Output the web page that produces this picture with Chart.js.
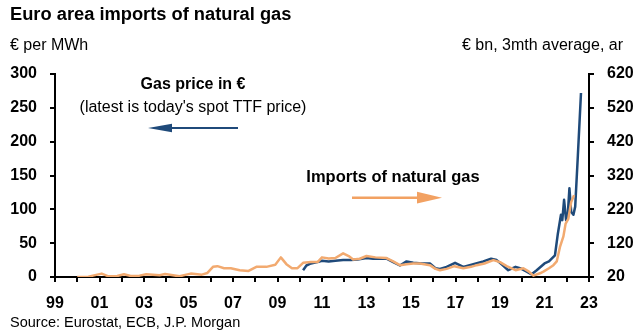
<!DOCTYPE html>
<html><head><meta charset="utf-8">
<script src="https://cdn.jsdelivr.net/npm/chart.js@4"></script>
<style>
html,body{margin:0;padding:0;background:#fff;}
#wrap{position:relative;width:638px;height:334px;font-family:"Liberation Sans",Arial,sans-serif;color:#000;overflow:hidden;}
canvas{position:absolute;left:0;top:0;}
svg{position:absolute;left:0;top:0;}
.t{position:absolute;white-space:nowrap;line-height:1;}
</style></head><body>
<div id="wrap">
<canvas id="c" width="638" height="334"></canvas>
<svg width="638" height="334">
  <line x1="238" y1="128" x2="166" y2="128" stroke="#1F4A7A" stroke-width="2.2"/>
  <polygon points="148,128 172,123.8 172,132.2" fill="#1F4A7A"/>
  <line x1="352" y1="197.7" x2="422" y2="197.7" stroke="#F2A162" stroke-width="2.5"/>
  <polygon points="442,197.7 417,191.8 417,203.6" fill="#F2A162"/>
</svg>
<div class="t" style="left:10px;top:4.5px;font-size:18.3px;font-weight:bold">Euro area imports of natural gas</div>
<div class="t" style="left:10px;top:36.5px;font-size:16px">€ per MWh</div>
<div class="t" style="right:15px;top:36.5px;font-size:16px">€ bn, 3mth average, ar</div>
<div class="t" style="left:193px;top:76px;font-size:16px;font-weight:bold;transform:translateX(-50%)">Gas price in €</div>
<div class="t" style="left:193px;top:99px;font-size:16px;transform:translateX(-50%)">(latest is today's spot TTF price)</div>
<div class="t" style="left:393px;top:168px;font-size:16.5px;font-weight:bold;transform:translateX(-50%)">Imports of natural gas</div>
<div class="t" style="left:10px;top:314.5px;font-size:14.5px">Source: Eurostat, ECB, J.P. Morgan</div>
</div>
<script>
// Imports of natural gas (€ bn, 3mth average, ar) - right axis
const importYears = [2000.0,2000.5,2000.9,2001.1,2001.4,2001.8,2002.1,2002.4,2002.8,2003.1,2003.4,2003.7,2003.95,2004.3,2004.6,2004.9,2005.1,2005.6,2005.85,2006.1,2006.3,2006.6,2006.9,2007.3,2007.7,2008.05,2008.5,2008.9,2009.15,2009.4,2009.65,2009.9,2010.15,2010.5,2010.8,2011.0,2011.3,2011.6,2011.95,2012.2,2012.4,2012.7,2013.0,2013.4,2013.9,2014.2,2014.5,2014.8,2015.1,2015.4,2015.85,2016.1,2016.3,2016.6,2016.95,2017.35,2017.7,2017.95,2018.3,2018.7,2019.0,2019.3,2019.7,2020.05,2020.3,2020.5,2020.8,2020.95,2021.2,2021.4,2021.55,2021.7,2021.85,2021.95,2022.07,2022.2,2022.33];
const importValues = [20,21,27,30,22,23,28,23,24,28,27,25,29,25,22,27,30,27,32,50,52,46,46,40,38,50,50,56,78,58,46,46,62,64,64,78,75,76,90,82,72,74,82,78,76,66,55,58,60,60,55,44,40,44,52,46,50,55,60,70,64,52,40,46,36,24,31,36,46,55,66,110,140,178,192,242,262];
// Gas price in € per MWh - left axis
const priceYears = [2010.15,2010.3,2010.5,2010.8,2011.0,2011.3,2011.6,2011.95,2012.3,2012.6,2013.0,2013.3,2013.6,2013.9,2014.2,2014.5,2014.8,2015.1,2015.5,2015.85,2016.1,2016.3,2016.6,2016.98,2017.35,2017.8,2018.25,2018.6,2018.85,2019.1,2019.37,2019.7,2019.9,2020.2,2020.42,2020.65,2021.0,2021.2,2021.47,2021.6,2021.74,2021.8,2021.88,2021.97,2022.05,2022.12,2022.2,2022.3,2022.38,2022.5,2022.64];
const priceValues = [10,17,20,22,24,23,24,25,25,26,28,27,27,27,22,17,23,21,20,20,13,12,15,21,15,19,23,27,25,18,10,15,13,8,4,10,20,23,32,64,92,84,114,84,95,131,96,92,104,180,272];
const leftTicks = {min:0, max:300, step:50};
const rightTicks = {min:20, max:620, step:100};
const yearRange = {min:1999, max:2023};

const toXY = (xs, ys) => xs.map((x,i)=>({x:x, y:ys[i]}));
const tickFont = {family:'"Liberation Sans", Arial, sans-serif', size:16, weight:'bold'};
const axisGrid = {display:true, drawOnChartArea:false, drawTicks:true, tickLength:5, color:'#000', lineWidth:2};
const axisBorder = {display:true, color:'#000', width:2};

new Chart(document.getElementById('c'), {
  type:'line',
  data:{datasets:[
    {label:'Imports of natural gas', data:toXY(importYears, importValues), yAxisID:'yR', borderColor:'#F2AA70', borderWidth:2.5, pointRadius:0, tension:0, borderJoinStyle:'round'},
    {label:'Gas price in €', data:toXY(priceYears, priceValues), yAxisID:'yL', borderColor:'#1F4A7A', borderWidth:2.5, pointRadius:0, tension:0, borderJoinStyle:'round'}
  ]},
  options:{
    responsive:false, animation:false, devicePixelRatio:1,
    layout:{padding:{top:74,left:0,right:0,bottom:0}},
    plugins:{legend:{display:false}, tooltip:{enabled:false}},
    scales:{
      x:{type:'linear', min:yearRange.min, max:yearRange.max,
        grid:axisGrid, border:axisBorder,
        ticks:{stepSize:1, autoSkip:false, maxRotation:0, color:'#000', font:tickFont, padding:12,
          callback:(v)=> ((v-1999)%2===0) ? String(v%100).padStart(2,'0') : ''},
        afterFit:(s)=>{s.height=57;}},
      yL:{type:'linear', position:'left', min:leftTicks.min, max:leftTicks.max,
        grid:axisGrid, border:axisBorder,
        ticks:{stepSize:leftTicks.step, color:'#000', font:tickFont, padding:13},
        afterFit:(s)=>{s.width=55;}},
      yR:{type:'linear', position:'right', min:rightTicks.min, max:rightTicks.max,
        grid:axisGrid, border:axisBorder,
        ticks:{stepSize:rightTicks.step, color:'#000', font:tickFont, padding:13},
        afterFit:(s)=>{s.width=49;}}
    }
  }
});
</script>
</body></html>
